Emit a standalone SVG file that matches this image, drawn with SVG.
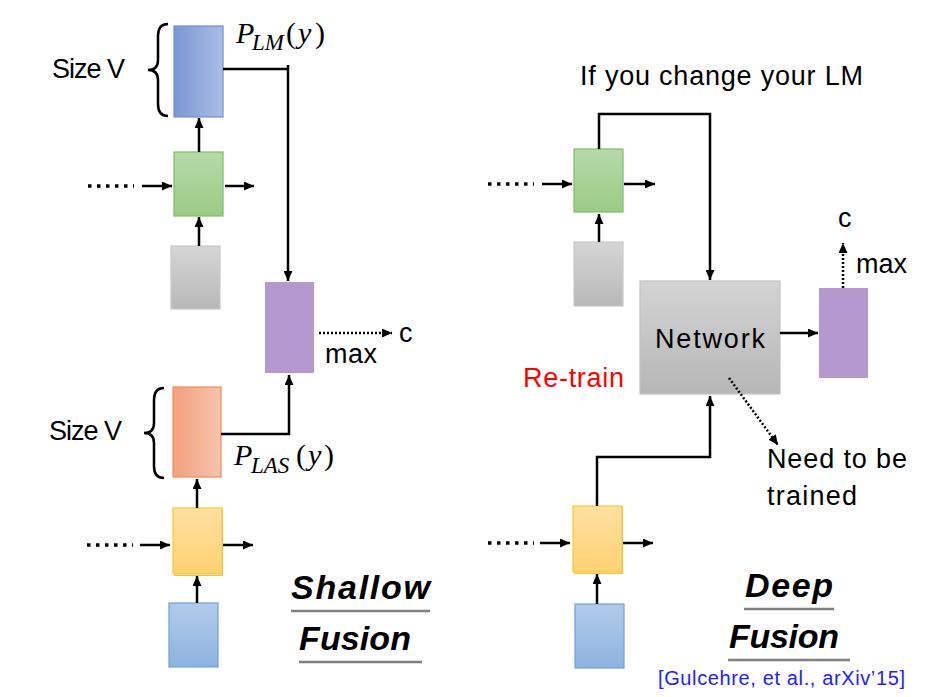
<svg xmlns="http://www.w3.org/2000/svg" width="928" height="697" viewBox="0 0 928 697">
<defs>
<style>
.t{font-family:"Liberation Sans",Arial,sans-serif;font-size:27px;fill:#000}
.h{font-family:"Liberation Sans",Arial,sans-serif;font-size:34px;font-weight:bold;font-style:italic;fill:#000}
.m{font-family:"Liberation Serif","Times New Roman",serif;font-size:30px;fill:#000}
.i{font-style:italic}
.s{font-size:23px}
.ln{fill:none;stroke:#000;stroke-width:2.5}
.ar{fill:none;stroke:#000;stroke-width:2.5;marker-end:url(#ah)}
.dt{fill:none;stroke:#000;stroke-width:2.5;stroke-dasharray:2 2;marker-end:url(#ah)}
.dots{fill:none;stroke:#000;stroke-width:3.5;stroke-dasharray:3.5 5.5}
.br{fill:none;stroke:#000;stroke-width:2.5}
.ul{stroke:#7f7f7f;stroke-width:2.5}
</style>
<marker id="ah" markerUnits="userSpaceOnUse" markerWidth="11" markerHeight="9" refX="10" refY="4.5" orient="auto">
<path d="M0,0 L10,4.5 L0,9 z" fill="#000"/>
</marker>
<linearGradient id="gBlueH" x1="0" y1="0" x2="1" y2="0"><stop offset="0" stop-color="#7b96d3"/><stop offset="1" stop-color="#abbde6"/></linearGradient>
<linearGradient id="gOrange" x1="0" y1="0" x2="1" y2="0"><stop offset="0" stop-color="#f4a07d"/><stop offset="1" stop-color="#f6c4ad"/></linearGradient>
<linearGradient id="gGreen" x1="0" y1="0" x2="0" y2="1"><stop offset="0" stop-color="#b7d9a9"/><stop offset="1" stop-color="#9bcb85"/></linearGradient>
<linearGradient id="gGray" x1="0" y1="0" x2="0" y2="1"><stop offset="0" stop-color="#d5d5d5"/><stop offset="1" stop-color="#b8b8b8"/></linearGradient>
<linearGradient id="gYellow" x1="0" y1="0" x2="0" y2="1"><stop offset="0" stop-color="#ffe0a2"/><stop offset="1" stop-color="#ffd272"/></linearGradient>
<linearGradient id="gBlueV" x1="0" y1="0" x2="0" y2="1"><stop offset="0" stop-color="#b1cbea"/><stop offset="1" stop-color="#8db3df"/></linearGradient>
<linearGradient id="gNet" x1="0" y1="0" x2="0" y2="1"><stop offset="0" stop-color="#d4d4d4"/><stop offset="1" stop-color="#b6b6b6"/></linearGradient>
</defs>
<rect width="928" height="697" fill="#fff"/>

<!-- Left: shallow fusion -->
<g id="lm-output">
<rect x="174" y="26" width="49" height="91" fill="url(#gBlueH)" stroke="#6f8fd2" stroke-width="1.2"/>
<path class="br" d="M168,24 Q158,24 158,36 L158,60 Q158,70 148,70 Q158,70 158,80 L158,104 Q158,116 168,116"/>
<text class="t" x="52" y="78" textLength="73">Size V</text>
<text class="m" x="236" y="43"><tspan class="i">P</tspan><tspan class="i s" x="252" y="50">LM</tspan><tspan x="286" y="43">(</tspan><tspan class="i" x="298">y</tspan><tspan x="315">)</tspan></text>
</g>
<g id="lm-rnn">
<rect x="174" y="152" width="49" height="64" fill="url(#gGreen)" stroke="#7cbf63" stroke-width="1.2"/>
</g>
<g id="lm-input">
<rect x="171" y="246" width="49" height="63" fill="url(#gGray)" stroke="#c9c9c9" stroke-width="1.2"/>
</g>
<g id="sf-max">
<rect x="265" y="282" width="49" height="91" fill="#b598ce"/>
<text class="t" x="325" y="363" textLength="52">max</text>
<text class="t" x="399" y="342">c</text>
</g>
<g id="las-output">
<rect x="173" y="387" width="48" height="90" fill="url(#gOrange)" stroke="#f08b5f" stroke-width="1.2"/>
<path class="br" d="M164,388 Q154,388 154,400 L154,423 Q154,433 144,433 Q154,433 154,443 L154,466 Q154,478 164,478"/>
<text class="t" x="49" y="440" textLength="73">Size V</text>
<text class="m" x="234" y="465"><tspan class="i">P</tspan><tspan class="i s" x="251" y="473">LAS</tspan><tspan x="296" y="465">(</tspan><tspan class="i" x="308">y</tspan><tspan x="324">)</tspan></text>
</g>
<g id="las-rnn">
<rect x="174.5" y="509.5" width="48" height="66" fill="none" stroke="#f5c040" stroke-width="1"/>
<rect x="173" y="508" width="49" height="66" fill="url(#gYellow)" stroke="#ffc72c" stroke-width="1.2"/>
</g>
<g id="las-input">
<rect x="169" y="603" width="49" height="64" fill="url(#gBlueV)" stroke="#70a0d8" stroke-width="1.2"/>
</g>
<g id="shallow-title">
<text class="h" x="291" y="599" textLength="139">Shallow</text>
<line class="ul" x1="291" y1="611" x2="430" y2="611"/>
<text class="h" x="299" y="650" textLength="112">Fusion</text>
<line class="ul" x1="299" y1="662" x2="422" y2="662"/>
</g>

<!-- Right: deep fusion -->
<g id="df-caption">
<text class="t" x="580" y="85" textLength="283">If you change your LM</text>
</g>
<g id="df-lm-rnn">
<rect x="574" y="149" width="49" height="63" fill="url(#gGreen)" stroke="#7cbf63" stroke-width="1.2"/>
</g>
<g id="df-lm-input">
<rect x="574" y="242" width="49" height="64" fill="url(#gGray)" stroke="#c9c9c9" stroke-width="1.2"/>
</g>
<g id="network">
<rect x="640" y="281" width="140" height="113" fill="url(#gNet)" stroke="#c2c2c2" stroke-width="1.2"/>
<text class="t" x="655" y="348" textLength="110">Network</text>
</g>
<g id="retrain">
<text class="t" x="523" y="387" textLength="101" style="fill:#ff0000">Re-train</text>
</g>
<g id="df-max">
<rect x="819" y="288" width="49" height="90" fill="#b598ce"/>
<text class="t" x="856" y="273" textLength="51">max</text>
<text class="t" x="838" y="227">c</text>
</g>
<g id="need-trained">
<text class="t" x="767" y="468" textLength="140">Need to be</text>
<text class="t" x="767" y="505" textLength="90">trained</text>
</g>
<g id="df-las-rnn">
<rect x="574.5" y="507.5" width="48" height="66" fill="none" stroke="#f5c040" stroke-width="1"/>
<rect x="573" y="506" width="49" height="66" fill="url(#gYellow)" stroke="#ffc72c" stroke-width="1.2"/>
</g>
<g id="df-las-input">
<rect x="575" y="604" width="49" height="64" fill="url(#gBlueV)" stroke="#70a0d8" stroke-width="1.2"/>
</g>
<g id="deep-title">
<text class="h" x="745" y="597" textLength="88">Deep</text>
<line class="ul" x1="744" y1="609" x2="834" y2="609"/>
<text class="h" x="729" y="648" textLength="110">Fusion</text>
<line class="ul" x1="728" y1="660" x2="850" y2="660"/>
<text x="658" y="685" textLength="247" style="font-family:'Liberation Sans',Arial,sans-serif;font-size:20px;fill:#2121ff">[Gulcehre, et al., arXiv’15]</text>
</g>

<g id="connectors">
<!-- left -->
<line class="ar" x1="199" y1="152" x2="199" y2="118"/>
<line class="ar" x1="199" y1="246" x2="199" y2="217"/>
<line class="dots" x1="88" y1="186" x2="134" y2="186"/>
<line class="ar" x1="142" y1="186" x2="172" y2="186"/>
<line class="ar" x1="225" y1="186" x2="254" y2="186"/>
<path class="ln" d="M223,69 H288"/>
<path class="ar" d="M288,65 V281"/>
<path class="ar" d="M221,434 H289 V375"/>
<line class="dt" x1="319" y1="333" x2="392" y2="333"/>
<line class="ar" x1="197" y1="508" x2="197" y2="479"/>
<line class="ar" x1="197" y1="603" x2="197" y2="576"/>
<line class="dots" x1="87" y1="545" x2="133" y2="545"/>
<line class="ar" x1="140" y1="545" x2="170" y2="545"/>
<line class="ar" x1="223" y1="545" x2="253" y2="545"/>
<!-- right -->
<path class="ar" d="M599,149 V114 H710 V280"/>
<line class="dots" x1="488" y1="184" x2="534" y2="184"/>
<line class="ar" x1="542" y1="184" x2="572" y2="184"/>
<line class="ar" x1="624" y1="184" x2="655" y2="184"/>
<line class="ar" x1="599" y1="242" x2="599" y2="214"/>
<line class="ar" x1="780" y1="333" x2="818" y2="333"/>
<line class="dt" x1="843" y1="288" x2="843" y2="243"/>
<path class="ar" d="M597,506 V457 H710 V396"/>
<line class="dt" x1="729" y1="378" x2="778" y2="445"/>
<line class="dots" x1="488" y1="543" x2="534" y2="543"/>
<line class="ar" x1="540" y1="543" x2="570" y2="543"/>
<line class="ar" x1="623" y1="543" x2="653" y2="543"/>
<line class="ar" x1="597" y1="604" x2="597" y2="574"/>
</g>
</svg>
